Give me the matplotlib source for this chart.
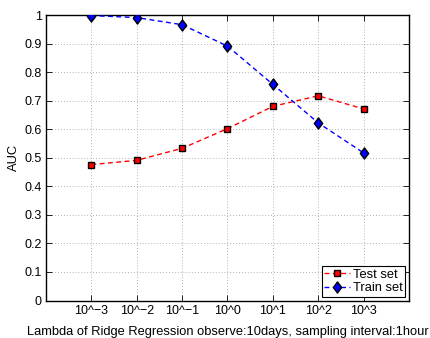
import matplotlib
matplotlib.use("Agg")
import matplotlib.pyplot as plt
from matplotlib.path import Path

plt.rcParams['font.family'] = ['Liberation Sans', 'DejaVu Sans']

lambdas = ["10^\u22123", "10^\u22122", "10^\u22121", "10^0", "10^1", "10^2", "10^3"]
test_auc = [0.476, 0.491, 0.533, 0.602, 0.680, 0.717, 0.671]
train_auc = [0.998, 0.991, 0.966, 0.891, 0.757, 0.622, 0.517]
yticks = [0, 0.1, 0.2, 0.3, 0.4, 0.5, 0.6, 0.7, 0.8, 0.9, 1]
ytick_labels = ["0", "0.1", "0.2", "0.3", "0.4", "0.5", "0.6", "0.7", "0.8", "0.9", "1"]

diamond = Path([(0, 1), (0.75, 0), (0, -1), (-0.75, 0), (0, 1)],
               [Path.MOVETO, Path.LINETO, Path.LINETO, Path.LINETO, Path.CLOSEPOLY])

fig = plt.figure(figsize=(4.31, 3.38), dpi=100)
ax = fig.add_axes([46/431, 1 - 300.5/338, (409-46)/431, (300.5-15)/338])

x = list(range(1, len(lambdas) + 1))
ax.plot(x, test_auc, linestyle='--', color='red', lw=1.0, marker='s',
        markersize=5, markerfacecolor='red', markeredgecolor='black',
        markeredgewidth=1.0, label='Test set', zorder=3, dashes=(3.5, 2.5))
ax.plot(x, train_auc, linestyle='--', color='blue', lw=1.0, marker=diamond,
        markersize=8, markerfacecolor='blue', markeredgecolor='black',
        markeredgewidth=1.0, label='Train set', zorder=3, dashes=(3.5, 2.5))

ax.set_xlim(0, 8)
ax.set_ylim(0, 1)
ax.set_xticks(x)
ax.set_xticklabels(lambdas)
ax.set_yticks(yticks)
ax.set_yticklabels(ytick_labels)
ax.tick_params(direction='in', top=True, right=True, labelsize=9, length=4, width=0.6, pad=3)
ax.grid(True, linestyle=(0, (1, 2.5)), color='#999999', linewidth=0.6)
for s in ax.spines.values():
    s.set_linewidth(1.0)

ax.set_xlabel("Lambda of Ridge Regression observe:10days, sampling interval:1hour", fontsize=9.3, labelpad=7)
ax.set_ylabel("AUC", fontsize=9.3, labelpad=3)

leg = ax.legend(loc='lower right', fontsize=9.3, fancybox=False, framealpha=1,
                edgecolor='black', borderpad=0.2, handlelength=2.0,
                handletextpad=0.2, labelspacing=0.1, borderaxespad=0.3)
leg.get_frame().set_linewidth(0.8)

fig.savefig("out.png", dpi=100)
